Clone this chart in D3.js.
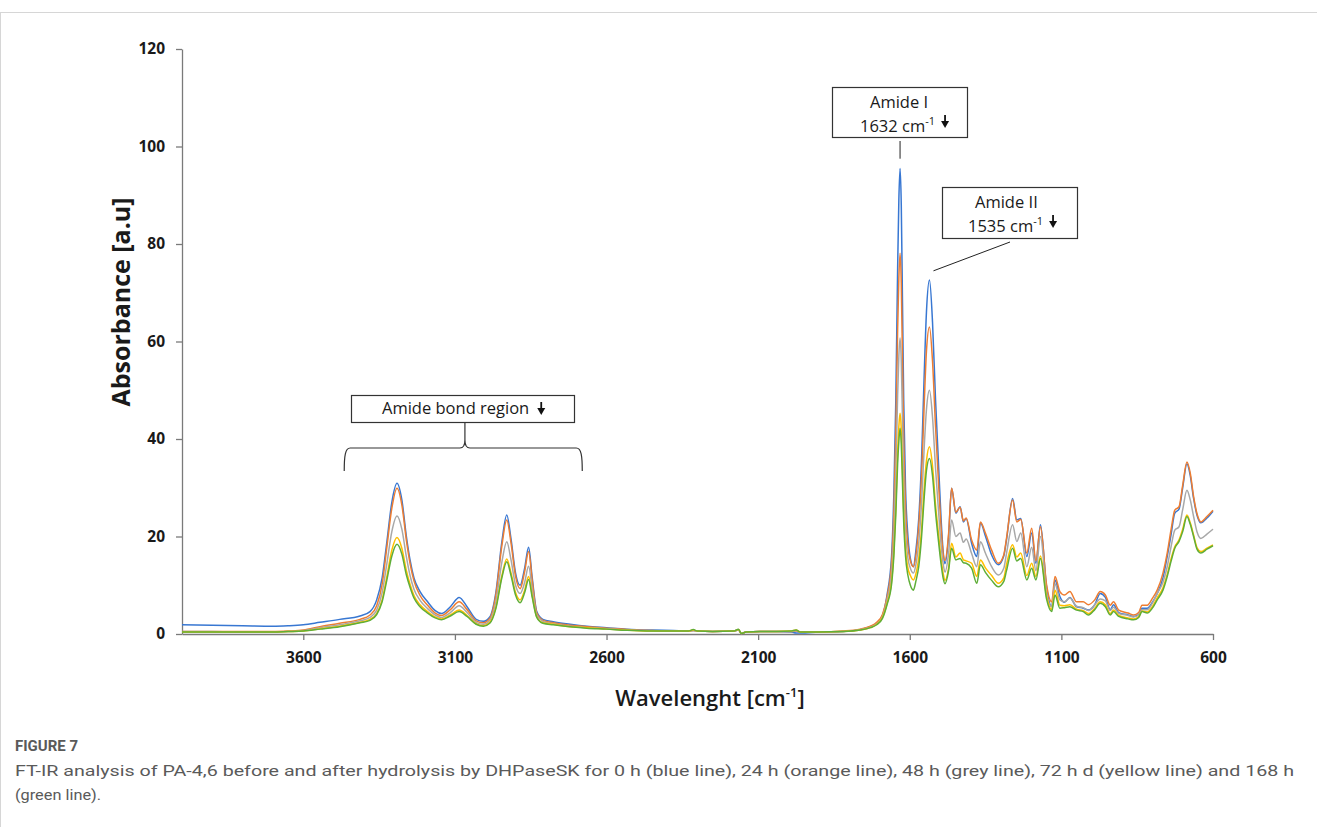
<!DOCTYPE html>
<html>
<head>
<meta charset="utf-8">
<script src="https://cdn.jsdelivr.net/npm/d3@7"></script>
<style>
  body { margin: 0; background: #fff; }
  svg { display: block; }
</style>
</head>
<body>
<div id="chart"></div>
<script>
// wavenumbers (cm-1), grouped by region
var wavenumbers = [
  4000, 3900, 3800, 3700, 3650, 3600,
  3545, 3480, 3413, 3380, 3358, 3340, 3325, 3308, 3291, 3275, 3260, 3248,
  3235, 3215, 3190, 3165, 3144, 3115, 3086, 3060, 3030, 3006,
  2985, 2965, 2945, 2929, 2915, 2900, 2885, 2870, 2857, 2845, 2830, 2810,
  2776, 2720, 2665, 2600, 2533, 2450, 2380, 2330, 2314, 2300, 2250, 2180, 2165, 2155,
  2140, 2094, 2040, 1990, 1975, 1960, 1900, 1820, 1764, 1730, 1709, 1690,
  1675, 1660, 1652, 1646, 1640, 1636, 1632, 1628, 1624, 1620, 1614, 1606, 1598,
  1588, 1580, 1570, 1561, 1553, 1545, 1535, 1525, 1515, 1506, 1497, 1490, 1484,
  1472, 1462, 1448, 1434, 1423, 1414, 1396, 1379, 1367, 1350, 1330, 1308, 1290,
  1281, 1261, 1247, 1234, 1214, 1198, 1184, 1169, 1149, 1132, 1121, 1105,
  1090, 1072, 1050, 1028, 1011, 990, 972, 955, 939, 928, 911, 880, 862, 845,
  834, 817, 800, 784, 765, 751, 738, 726, 712, 700, 686, 675, 664, 652, 640, 620, 600
];

var abs0h = [
  1.9, 1.8, 1.7, 1.6, 1.7, 1.9,
  2.4, 3.0, 3.7, 4.6, 7.0, 11.5, 18.6, 27.0, 30.9, 27.5, 20.0, 15.2,
  11.5, 8.7, 6.6, 4.8, 4.2, 5.6, 7.5, 5.6, 3.0, 2.6,
  3.5, 8.5, 19.0, 24.4, 19.5, 12.5, 10.0, 13.5, 17.8, 11.5, 4.6, 3.0,
  2.5, 2.0, 1.6, 1.3, 1.0, 0.8, 0.7, 0.6, 0.7, 0.6, 0.5, 0.6, 0.8, 0.1,
  0.4, 0.5, 0.5, 0.4, 0.2, 0.2, 0.4, 0.5, 0.9, 1.5, 2.2, 3.8,
  8.0, 16.0, 30.0, 48.0, 75.0, 89.0, 95.5, 88.0, 68.0, 48.0, 30.0, 20.0, 15.5,
  13.8, 17.0, 24.0, 36.0, 52.0, 66.0, 72.6, 64.0, 48.0, 36.0, 24.0, 17.0, 14.4,
  20.0, 29.9, 24.8, 26.1, 23.0, 23.7, 18.6, 15.9, 22.8, 20.0, 16.2, 14.2, 16.0,
  19.3, 27.8, 23.4, 23.7, 15.9, 20.7, 14.5, 22.4, 9.7, 5.6, 11.1, 7.7,
  6.5, 7.5, 5.6, 5.3, 4.9, 6.0, 8.3, 7.5, 5.0, 6.0, 4.4, 3.9, 3.6, 4.0,
  5.3, 5.3, 6.5, 8.3, 11.5, 15.9, 20.5, 24.8, 25.6, 30.0, 34.9, 32.5, 27.8, 24.2, 22.8, 23.8, 25.2
];

var abs24h = [
  0.5, 0.5, 0.5, 0.5, 0.6, 0.8,
  1.5, 2.2, 3.0, 3.9, 5.8, 10.2, 17.5, 25.8, 29.9, 26.5, 19.2, 14.5,
  10.9, 7.9, 5.9, 4.3, 3.8, 5.0, 6.6, 5.0, 2.7, 2.3,
  3.2, 8.0, 18.2, 23.4, 18.7, 11.8, 9.3, 12.8, 16.9, 10.9, 4.3, 2.8,
  2.3, 1.8, 1.5, 1.2, 0.9, 0.7, 0.6, 0.6, 0.7, 0.6, 0.5, 0.6, 0.8, 0.1,
  0.4, 0.5, 0.5, 0.5, 0.6, 0.4, 0.4, 0.6, 1.0, 1.6, 2.4, 4.0,
  7.6, 14.5, 26.0, 41.0, 62.5, 73.0, 78.1, 72.0, 56.0, 40.0, 26.0, 18.0, 15.0,
  13.8, 16.0, 22.5, 32.5, 46.0, 58.0, 63.0, 56.0, 42.5, 32.0, 22.0, 16.5, 15.1,
  20.5, 29.9, 25.0, 26.0, 23.2, 23.8, 19.3, 17.2, 23.0, 20.6, 17.2, 14.5, 16.2,
  19.6, 27.5, 23.0, 23.5, 16.6, 21.7, 15.0, 22.0, 10.2, 6.6, 11.8, 8.7,
  8.0, 8.7, 6.6, 6.6, 6.0, 7.0, 8.7, 8.0, 5.9, 6.6, 4.9, 4.3, 3.9, 4.4,
  5.9, 5.9, 7.3, 9.0, 12.5, 16.6, 21.5, 25.4, 26.1, 30.5, 35.3, 33.0, 28.2, 24.5, 23.0, 24.1, 25.4
];

var abs48h = [
  0.5, 0.5, 0.4, 0.4, 0.5, 0.7,
  1.3, 1.9, 2.7, 3.4, 4.9, 8.5, 14.2, 21.0, 24.2, 21.5, 15.8, 12.0,
  9.2, 6.9, 5.2, 3.9, 3.4, 4.4, 5.8, 4.4, 2.4, 2.0,
  2.8, 6.6, 14.8, 18.9, 15.2, 10.0, 8.3, 10.6, 13.9, 9.2, 3.9, 2.6,
  2.1, 1.6, 1.3, 1.1, 0.8, 0.7, 0.6, 0.6, 0.7, 0.6, 0.5, 0.6, 0.8, 0.1,
  0.4, 0.5, 0.5, 0.5, 0.7, 0.4, 0.4, 0.5, 0.9, 1.4, 2.1, 3.6,
  7.0, 12.5, 21.5, 33.0, 49.0, 57.0, 60.7, 56.0, 44.0, 32.0, 21.5, 15.5, 13.5,
  12.5, 14.2, 19.0, 27.0, 37.5, 46.0, 50.0, 44.5, 34.0, 26.0, 18.5, 14.5, 12.7,
  16.5, 23.4, 20.0, 20.7, 18.8, 19.5, 16.5, 13.8, 18.9, 16.5, 13.8, 12.1, 13.5,
  16.5, 22.4, 19.0, 20.7, 13.8, 17.8, 13.0, 20.0, 8.5, 5.6, 10.3, 7.0,
  6.6, 7.4, 5.7, 5.4, 4.8, 6.0, 7.2, 6.8, 4.8, 5.5, 4.2, 3.8, 3.5, 3.9,
  5.0, 5.0, 6.3, 8.3, 10.6, 13.8, 18.0, 21.3, 22.0, 25.5, 29.5, 27.5, 24.1, 20.8, 19.6, 20.5, 21.5
];

var abs72h = [
  0.4, 0.4, 0.4, 0.4, 0.5, 0.6,
  1.1, 1.6, 2.4, 3.0, 4.2, 7.0, 11.6, 17.2, 19.8, 17.6, 13.0, 10.2,
  7.9, 6.0, 4.6, 3.5, 3.1, 3.9, 4.9, 3.8, 2.1, 1.7,
  2.4, 5.5, 12.0, 15.4, 12.5, 8.5, 7.0, 9.0, 11.8, 7.9, 3.5, 2.3,
  2.0, 1.5, 1.3, 1.0, 0.8, 0.6, 0.6, 0.6, 0.8, 0.6, 0.5, 0.6, 0.9, 0.1,
  0.4, 0.5, 0.5, 0.6, 0.8, 0.4, 0.4, 0.5, 0.8, 1.3, 2.0, 3.4,
  6.3, 10.8, 17.5, 26.0, 37.5, 42.5, 45.3, 42.0, 33.5, 25.0, 17.5, 13.5, 12.0,
  11.1, 12.3, 15.8, 21.5, 29.5, 35.5, 38.4, 34.5, 26.5, 21.0, 15.5, 12.5, 11.0,
  13.5, 18.6, 15.8, 16.6, 15.2, 15.0, 14.5, 11.8, 15.2, 13.5, 12.0, 10.4, 11.5,
  14.2, 18.3, 15.8, 16.6, 12.0, 14.5, 11.8, 16.0, 7.8, 5.0, 9.0, 5.9,
  5.8, 6.0, 5.1, 4.8, 4.2, 5.3, 6.6, 6.0, 4.2, 4.9, 3.8, 3.3, 3.1, 3.6,
  4.7, 4.5, 5.6, 7.4, 9.5, 12.2, 15.5, 17.9, 19.3, 21.5, 24.4, 22.8, 20.3, 17.6, 16.9, 17.6, 18.3
];

var abs168h = [
  0.4, 0.4, 0.4, 0.4, 0.5, 0.6,
  1.0, 1.5, 2.3, 2.8, 4.0, 6.6, 10.9, 16.0, 18.4, 16.4, 12.1, 9.6,
  7.4, 5.6, 4.3, 3.3, 2.9, 3.7, 4.6, 3.6, 2.0, 1.6,
  2.2, 5.2, 11.6, 14.8, 12.0, 8.0, 6.4, 8.5, 11.2, 7.5, 3.4, 2.2,
  1.9, 1.5, 1.2, 1.0, 0.75, 0.6, 0.6, 0.6, 0.9, 0.6, 0.5, 0.6, 1.0, 0.1,
  0.4, 0.5, 0.5, 0.6, 0.8, 0.4, 0.4, 0.5, 0.8, 1.3, 1.9, 3.2,
  6.0, 10.2, 16.5, 24.5, 35.0, 39.5, 42.2, 39.0, 31.0, 23.0, 16.0, 12.0, 10.0,
  9.0, 10.8, 14.0, 20.0, 27.5, 33.5, 36.0, 32.5, 25.0, 19.5, 14.5, 11.5, 10.3,
  13.0, 17.6, 15.2, 15.5, 14.6, 14.5, 13.5, 10.4, 14.2, 12.6, 11.0, 9.7, 10.8,
  13.0, 17.6, 15.0, 15.5, 11.1, 13.5, 11.1, 15.5, 7.2, 4.6, 8.0, 5.3,
  5.4, 5.6, 4.9, 4.6, 3.9, 5.0, 6.3, 5.6, 3.9, 4.6, 3.6, 3.1, 2.9, 3.4,
  4.6, 4.3, 5.3, 7.0, 9.0, 11.8, 15.0, 17.6, 19.0, 21.0, 24.1, 22.5, 20.0, 17.3, 16.6, 17.4, 18.1
];

var seriesNames = ["0 h", "24 h", "48 h", "72 h", "168 h"];
var seriesValues = [abs0h, abs24h, abs48h, abs72h, abs168h];
var seriesColors = ["#3877d2", "#ee7d31", "#a8a8a8", "#ffc000", "#5fae38"];

var xTicks = [3600, 3100, 2600, 2100, 1600, 1100, 600];
var yTicks = [0, 20, 40, 60, 80, 100, 120];

var width = 1317, height = 827;

var svg = d3.select("#chart").append("svg")
    .attr("width", width)
    .attr("height", height)
    .attr("xmlns", "http://www.w3.org/2000/svg");

svg.append("rect").attr("width", width).attr("height", height).attr("fill", "#fff");

// page frame lines
svg.append("line").attr("x1", 0).attr("y1", 12.5).attr("x2", width).attr("y2", 12.5)
    .style("stroke", "#d6d6d6").style("stroke-width", 1);
svg.append("line").attr("x1", 0.5).attr("y1", 12).attr("x2", 0.5).attr("y2", height)
    .style("stroke", "#d6d6d6").style("stroke-width", 1);

var x = d3.scaleLinear().domain([4000, 600]).range([182, 1213]);
var y = d3.scaleLinear().domain([0, 120]).range([634, 49]);

var tickFont = "'Open Sans', 'Liberation Sans', sans-serif";
var noteFont = "'Open Sans', 'Liberation Sans', sans-serif";

// axes
var xAxis = svg.append("g")
    .attr("transform", "translate(0," + y(0) + ")")
    .call(d3.axisBottom(x).tickValues(xTicks).tickSize(6).tickSizeOuter(0).tickPadding(12)
        .tickFormat(d3.format("d")));

var yAxis = svg.append("g")
    .attr("transform", "translate(" + x(4000) + ",0)")
    .call(d3.axisLeft(y).tickValues(yTicks).tickSize(6).tickSizeOuter(0).tickPadding(11));

[xAxis, yAxis].forEach(function(g){
    g.select(".domain").style("stroke", "#7a7a7a").style("stroke-width", 1.3);
    g.selectAll(".tick line").style("stroke", "#7a7a7a").style("stroke-width", 1.3);
    g.selectAll(".tick text")
        .style("font-family", tickFont)
        .style("font-size", "15.5px")
        .style("font-weight", "bold")
        .style("fill", "#1a1a1a");
});

// spectra
var line = d3.line()
    .x(function(d){ return x(d[0]); })
    .y(function(d){ return y(d[1]); })
    .curve(d3.curveMonotoneX);

seriesValues.forEach(function(vals, i){
    var pts = wavenumbers.map(function(w, j){ return [w, vals[j]]; });
    svg.append("path")
        .datum(pts)
        .attr("class", "spectrum s" + i)
        .attr("fill", "none")
        .attr("stroke", seriesColors[i])
        .attr("stroke-width", 1.5)
        .attr("stroke-linejoin", "round")
        .attr("d", line);
});

// axis titles
svg.append("text")
    .attr("transform", "translate(130,302) rotate(-90)")
    .attr("text-anchor", "middle")
    .style("font-family", tickFont)
    .style("font-size", "25px")
    .style("font-weight", "bold")
    .style("fill", "#1a1a1a")
    .text("Absorbance [a.u]");

var xt = svg.append("text")
    .attr("x", 710)
    .attr("y", 706)
    .attr("text-anchor", "middle")
    .style("font-family", tickFont)
    .style("font-size", "22px")
    .style("font-weight", "600")
    .style("fill", "#1a1a1a");
xt.append("tspan").text("Wavelenght [cm");
xt.append("tspan").attr("dy", -9).style("font-size", "13px").text("-1");
xt.append("tspan").attr("dy", 9).text("]");

// annotation helpers
function downArrow(cx, top){
    svg.append("line").attr("x1", cx).attr("y1", top).attr("x2", cx).attr("y2", top + 8)
        .style("stroke", "#111").style("stroke-width", 1.8);
    svg.append("path")
        .attr("d", "M" + (cx - 4) + "," + (top + 6) + " L" + (cx + 4) + "," + (top + 6) + " L" + cx + "," + (top + 13) + " Z")
        .attr("fill", "#111");
}

function box(x0, y0, w, h){
    svg.append("rect").attr("x", x0 + 0.5).attr("y", y0 + 0.5).attr("width", w).attr("height", h)
        .attr("fill", "#fff").style("stroke", "#333").style("stroke-width", 1.2);
}

function noteLine(x0, yb, parts){
    var t = svg.append("text").attr("x", x0).attr("y", yb)
        .style("font-family", noteFont).style("font-size", "16.5px").style("fill", "#1a1a1a");
    t.append("tspan").text(parts[0]);
    if (parts[1]) {
        t.append("tspan").attr("dy", -7).style("font-size", "11px").text(parts[1]);
    }
    return t;
}

// Amide I
var a1x = x(1632);
svg.append("line").attr("x1", a1x).attr("y1", 141).attr("x2", a1x).attr("y2", y(97.5))
    .style("stroke", "#222").style("stroke-width", 1);
box(832, 87, 135, 50);
noteLine(870, 108, ["Amide I"]);
var t1 = noteLine(860, 132, ["1632 cm", "-1"]);
downArrow(860 + t1.node().getComputedTextLength() + 10, 115);

// Amide II
svg.append("line").attr("x1", 1010).attr("y1", 242).attr("x2", x(1535) + 4).attr("y2", y(74.5))
    .style("stroke", "#222").style("stroke-width", 1);
box(942, 187, 135, 51);
noteLine(975, 208, ["Amide II"]);
var t2 = noteLine(968, 232, ["1535 cm", "-1"]);
downArrow(968 + t2.node().getComputedTextLength() + 10, 215);

// amide bond region with brace
var bL = x(3465), bR = x(2680), bM = x(3067);
var braceTop = 448;
svg.append("path")
    .attr("d",
        "M" + bL + "," + (braceTop + 23) +
        " C" + bL + "," + (braceTop + 8) + " " + (bL + 1) + "," + braceTop + " " + (bL + 6) + "," + braceTop +
        " L" + (bM - 5) + "," + braceTop +
        " C" + (bM - 1) + "," + braceTop + " " + bM + "," + (braceTop - 4) + " " + bM + "," + (braceTop - 8) +
        " C" + bM + "," + (braceTop - 4) + " " + (bM + 1) + "," + braceTop + " " + (bM + 5) + "," + braceTop +
        " L" + (bR - 6) + "," + braceTop +
        " C" + (bR - 1) + "," + braceTop + " " + bR + "," + (braceTop + 8) + " " + bR + "," + (braceTop + 23))
    .attr("fill", "none")
    .style("stroke", "#333").style("stroke-width", 1.2);
svg.append("line").attr("x1", bM).attr("y1", 422).attr("x2", bM).attr("y2", braceTop - 8)
    .style("stroke", "#333").style("stroke-width", 1.2);
box(351, 395, 223, 27);
var t3 = noteLine(382, 414, ["Amide bond region"]);
downArrow(382 + t3.node().getComputedTextLength() + 12, 402);

// caption
var capFont = "'Liberation Sans Narrow', 'Roboto', sans-serif";
svg.append("text").attr("x", 15).attr("y", 751)
    .style("font-family", capFont).style("font-size", "15px").style("font-weight", "bold")
    .style("fill", "#5a5a5a")
    .attr("textLength", 63).attr("lengthAdjust", "spacingAndGlyphs")
    .text("FIGURE 7");
svg.append("text").attr("x", 15).attr("y", 776)
    .style("font-family", capFont).style("font-size", "15px")
    .style("fill", "#5a5a5a")
    .attr("textLength", 1279).attr("lengthAdjust", "spacingAndGlyphs")
    .text("FT-IR analysis of PA-4,6 before and after hydrolysis by DHPaseSK for 0 h (blue line), 24 h (orange line), 48 h (grey line), 72 h d (yellow line) and 168 h");
svg.append("text").attr("x", 15).attr("y", 800)
    .style("font-family", capFont).style("font-size", "15px")
    .style("fill", "#5a5a5a")
    .attr("textLength", 86).attr("lengthAdjust", "spacingAndGlyphs")
    .text("(green line).");
</script>
</body>
</html>
